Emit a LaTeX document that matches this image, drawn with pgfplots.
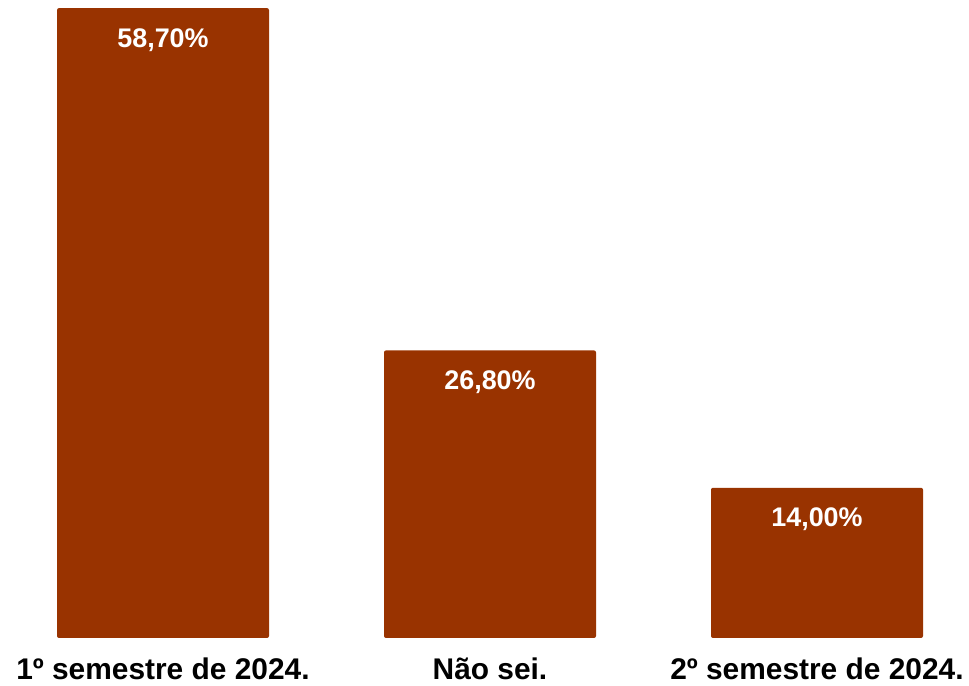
\documentclass[border=0pt]{standalone}
\usepackage{pgfplots}
\pgfplotsset{compat=1.18}
\usepackage{fontspec}
\setmainfont{Liberation Sans}
\definecolor{barc}{HTML}{993300}
\begin{document}
\begin{tikzpicture}
\begin{axis}[
  scale only axis,
  width=969bp, height=638bp,
  xmin=0, xmax=969, ymin=0, ymax=59.46,
  axis line style={draw=none},
  major tick length=0pt,
  ytick=\empty,
  xtick={163,490,817},
  xticklabels={1º semestre de 2024., Não sei., 2º semestre de 2024.},
  xticklabel style={font=\fontsize{30}{33}\selectfont\bfseries, text=black, anchor=base, yshift=-42bp, inner sep=0pt},
  ybar, bar width=212, bar shift=0pt,
  clip=false,
  nodes near coords={\pgfmathprintnumber[fixed, fixed zerofill, precision=2, use comma, assume math mode=true]{\pgfplotspointmeta}\%},
  nodes near coords style={font=\fontsize{27}{30}\selectfont\bfseries, text=white, anchor=base, yshift=-39bp, inner sep=0pt},
  point meta=explicit,
]
\addplot[fill=barc, draw=none, rounded corners=2bp] coordinates {(163,58.7) [58.7] (490,26.8) [26.8] (817,14.0) [14.0]};
\coordinate (bl) at (axis cs:0,-4.473);
\coordinate (tr) at (axis cs:969,59.46);
\end{axis}
\pgfresetboundingbox
\useasboundingbox (bl) rectangle (tr);
\end{tikzpicture}
\end{document}
